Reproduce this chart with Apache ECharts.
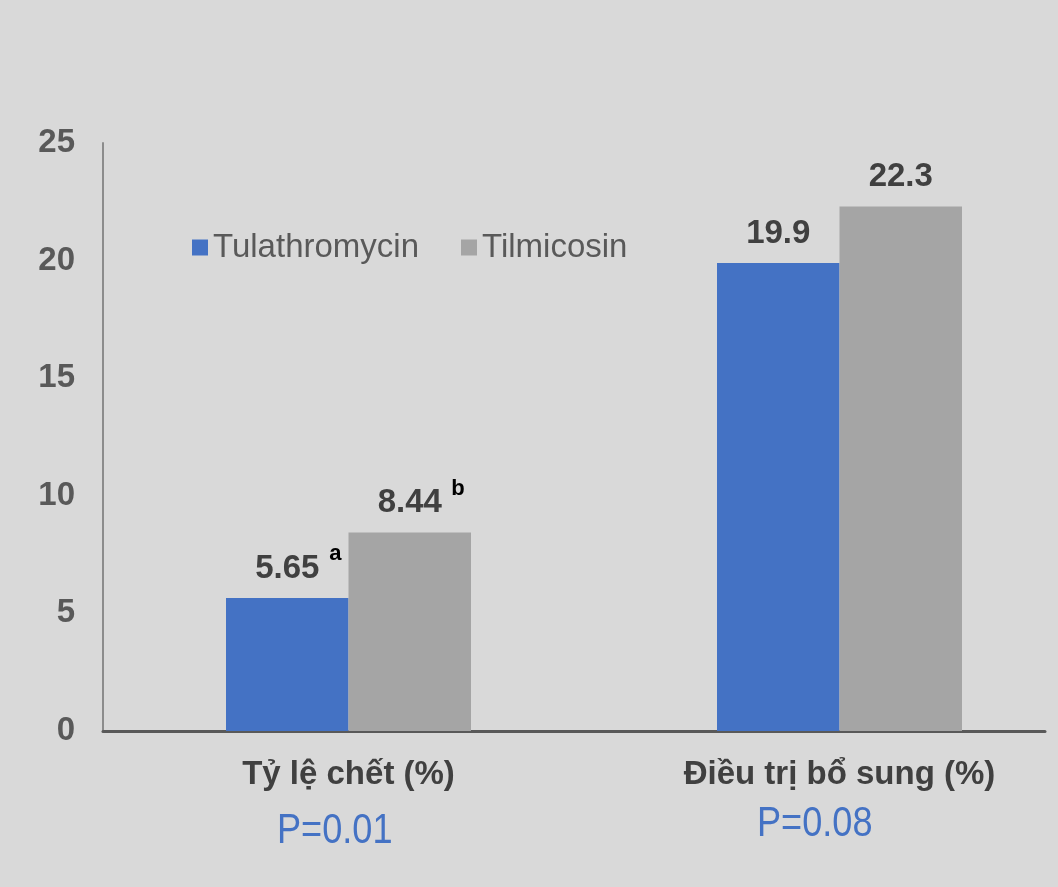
<!DOCTYPE html>
<html>
<head>
<meta charset="utf-8">
<script src="https://cdn.jsdelivr.net/npm/echarts@6/dist/echarts.min.js"></script>
<style>
html,body{margin:0;padding:0;background:#d9d9d9;overflow:hidden;}
#chart{width:1100px;height:887px;}
</style>
</head>
<body>
<div id="chart"></div>
<script>
var categories = ['Tỷ lệ chết (%)', 'Điều trị bổ sung (%)'];
var seriesNames = ['Tulathromycin', 'Tilmicosin'];
var tulathromycin = [5.65, 19.9];
var tilmicosin = [8.44, 22.3];
var superscripts = [['a', ''], ['b', '']];
var pValues = ['P=0.01', 'P=0.08'];
var yTicks = { min: 0, max: 25, interval: 5 };

var FONT = 'Liberation Sans, Arial, sans-serif';
var chart = echarts.init(document.getElementById('chart'));

function labelFmt(p) {
  var s = superscripts[p.seriesIndex][p.dataIndex];
  return s ? '{sp| }{v|' + p.value + '}{s|' + s + '}' : '{v|' + p.value + '}';
}
var labelCfg = {
  show: true, position: 'top', distance: 13, formatter: labelFmt,
  rich: {
    v: { fontSize: 33, fontWeight: 'bold', color: '#404040', fontFamily: FONT, lineHeight: 34, verticalAlign: 'bottom' },
    s: { fontSize: 22, fontWeight: 'bold', color: '#000', fontFamily: FONT, lineHeight: 22, verticalAlign: 'top', width: 32, align: 'center' },
    sp: { width: 32, lineHeight: 42, fontSize: 10 }
  }
};

chart.setOption({
  backgroundColor: '#d9d9d9',
  animation: false,
  legend: {
    left: 187, top: 226, itemWidth: 16, itemHeight: 16, itemGap: 42, icon: 'rect',
    data: seriesNames,
    textStyle: { fontSize: 33, color: '#595959', fontFamily: FONT }
  },
  grid: [
    { left: 103, right: 15, top: 143, bottom: 156 },
    { left: 103, right: 55, top: 143, bottom: 156 }
  ],
  xAxis: [
    { type: 'category', gridIndex: 0, data: categories,
      axisLine: { show: false }, axisTick: { show: false },
      axisLabel: { margin: 27, fontSize: 33, fontWeight: 'bold', color: '#404040', fontFamily: FONT } },
    { type: 'category', gridIndex: 1, data: [''],
      axisLine: { show: true, lineStyle: { color: '#595959', width: 3 } },
      axisTick: { show: false }, axisLabel: { show: false } }
  ],
  yAxis: [
    { type: 'value', gridIndex: 0, min: yTicks.min, max: yTicks.max, interval: yTicks.interval,
      splitLine: { show: false }, axisTick: { show: false },
      axisLine: { show: true, lineStyle: { color: '#8c8c8c', width: 2 } },
      axisLabel: { margin: 28, fontSize: 33, fontWeight: 'bold', color: '#595959', fontFamily: FONT } },
    { type: 'value', gridIndex: 1, min: yTicks.min, max: yTicks.max, show: false }
  ],
  series: [
    { name: seriesNames[0], type: 'bar', xAxisIndex: 0, yAxisIndex: 0, data: tulathromycin,
      barWidth: 122.5, barGap: '0%', itemStyle: { color: '#4472c4' }, label: labelCfg },
    { name: seriesNames[1], type: 'bar', xAxisIndex: 0, yAxisIndex: 0, data: tilmicosin,
      barWidth: 122.5, barGap: '0%', itemStyle: { color: '#a5a5a5' }, label: labelCfg }
  ],
  graphic: [
    { type: 'text', x: 277, y: 810, scaleX: 0.86, style: { text: pValues[0], fontSize: 42, fill: '#4472c4', fontFamily: FONT } },
    { type: 'text', x: 757, y: 803, scaleX: 0.86, style: { text: pValues[1], fontSize: 42, fill: '#4472c4', fontFamily: FONT } }
  ]
});
</script>
</body>
</html>
